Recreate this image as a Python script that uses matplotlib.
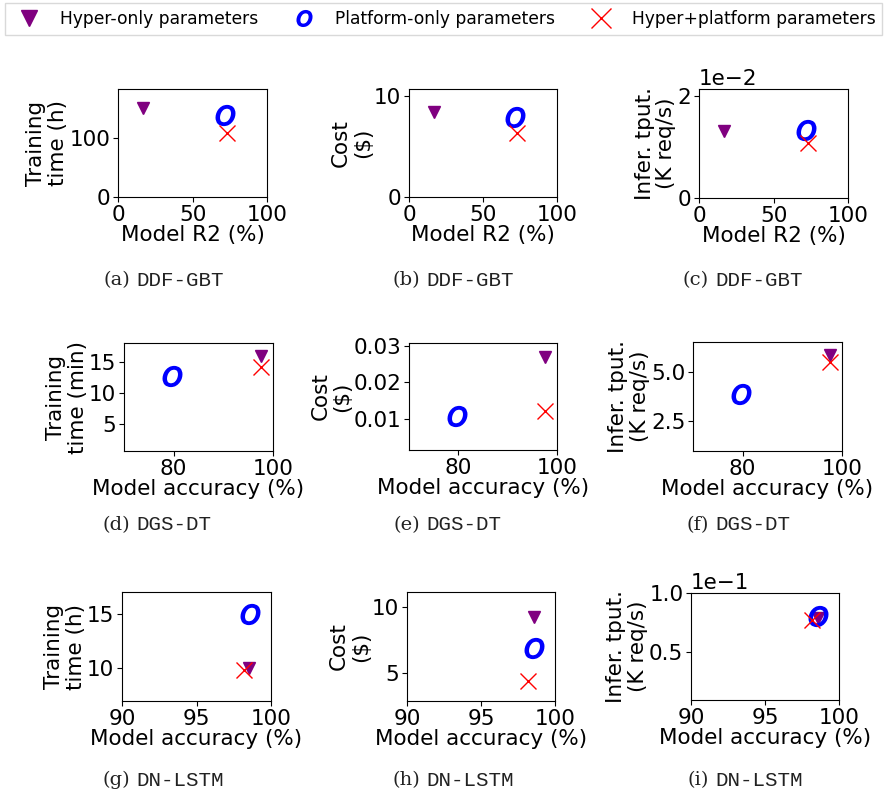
import matplotlib
matplotlib.use("Agg")
import matplotlib.pyplot as plt
from matplotlib.lines import Line2D

# ---------------- data ----------------
configs = ["Hyper-only parameters", "Platform-only parameters", "Hyper+platform parameters"]

# DDF-GBT (x: model R2 %)
ddf_r2 = [17, 71.5, 73]
ddf_time_h = [150, 138, 108]
ddf_cost = [8.4, 7.9, 6.3]
ddf_tput = [0.0130, 0.0133, 0.0108]

# DGS-DT (x: model accuracy %)
dgs_acc = [97.6, 79.7, 97.6]
dgs_time_min = [16.0, 12.7, 14.2]
dgs_cost = [0.0269, 0.0109, 0.0123]
dgs_tput = [5.85, 3.9, 5.5]

# DN-LSTM (x: model accuracy %)
dn_acc = [98.55, 98.6, 98.2]
dn_time_h = [10.0, 15.0, 9.8]
dn_cost = [9.2, 6.9, 4.4]
dn_tput = [0.079, 0.0805, 0.077]

captions = ["(a)", "(b)", "(c)", "(d)", "(e)", "(f)", "(g)", "(h)", "(i)"]
names = ["DDF-GBT", "DDF-GBT", "DDF-GBT", "DGS-DT", "DGS-DT", "DGS-DT",
         "DN-LSTM", "DN-LSTM", "DN-LSTM"]

# ---------------- style ----------------
W, H = 884, 796
fig = plt.figure(figsize=(W / 100, H / 100), dpi=100)
plt.rcParams["font.family"] = ["DejaVu Sans"]
FS = 15.5

colors = ["#800080", "#0000ff", "#ff0000"]
markers = ["v", "$O$", "x"]
msizes = [8, 14, 12]
mews = [1, 1.3, 1]


def ax_at(x0, y0, x1, y1):
    return fig.add_axes([x0 / W, (H - y1) / H, (x1 - x0) / W, (y1 - y0) / H])


panels = [
    # (box, x data, y data, ylabel, xlabel, xlim, xticks, ylim, yticks, sci)
    ((118, 89, 267, 197), ddf_r2, ddf_time_h, "Training\ntime (h)", "Model R2 (%)",
     (0, 100), [0, 50, 100], (0, 182), [0, 100], False),
    ((409, 89, 557, 197), ddf_r2, ddf_cost, "Cost\n($)", "Model R2 (%)",
     (0, 100), [0, 50, 100], (0, 10.66), [0, 10], False),
    ((699, 89, 848, 198), ddf_r2, ddf_tput, "Infer. tput.\n(K req/s)", "Model R2 (%)",
     (0, 100), [0, 50, 100], (0, 0.0213), [0, 0.02], True),
    ((124, 343, 273, 451), dgs_acc, dgs_time_min, "Training\ntime (min)", "Model accuracy (%)",
     (70, 100), [80, 100], (0.75, 18), [5, 10, 15], False),
    ((409, 343, 557, 450), dgs_acc, dgs_cost, "Cost\n($)", "Model accuracy (%)",
     (70, 100), [80, 100], (0.0015, 0.0308), [0.01, 0.02, 0.03], False),
    ((693, 342, 842, 451), dgs_acc, dgs_tput, "Infer. tput.\n(K req/s)", "Model accuracy (%)",
     (70, 100), [80, 100], (1.0, 6.5), [2.5, 5.0], False),
    ((122, 592, 271, 701), dn_acc, dn_time_h, "Training\ntime (h)", "Model accuracy (%)",
     (90, 100), [90, 95, 100], (6.9, 17), [10, 15], False),
    ((407, 592, 555, 701), dn_acc, dn_cost, "Cost\n($)", "Model accuracy (%)",
     (90, 100), [90, 95, 100], (2.9, 11.1), [5, 10], False),
    ((691, 593, 839, 700), dn_acc, dn_tput, "Infer. tput.\n(K req/s)", "Model accuracy (%)",
     (90, 100), [90, 95, 100], (0.01, 0.1), [0.05, 0.1], True),
]

for (box, xs, ys, ylab, xlab, xlim, xt, ylim, yt, sci) in panels:
    ax = ax_at(*box)
    for i in range(3):
        ax.plot([xs[i]], [ys[i]], linestyle="none", marker=markers[i],
                markersize=msizes[i], color=colors[i], markeredgecolor=colors[i],
                markeredgewidth=mews[i], zorder=3 + i)
    ax.set_xlim(*xlim)
    ax.set_ylim(*ylim)
    ax.set_xticks(xt)
    ax.set_yticks(yt)
    ax.tick_params(labelsize=FS, pad=2)
    ax.set_xlabel(xlab, fontsize=FS, labelpad=0)
    ax.set_ylabel(ylab, fontsize=FS, labelpad=1, linespacing=1.1)
    if sci:
        ax.ticklabel_format(axis="y", style="sci", scilimits=(0, 0))
        ax.yaxis.get_offset_text().set_fontsize(FS)

# captions
gap_x = [133, 423, 712]
cap_y = [280, 525, 780]
for k in range(9):
    r, c = divmod(k, 3)
    fx = gap_x[c] / W
    fy = (H - cap_y[r]) / H
    fig.text(fx - 3 / W, fy, captions[k], ha="right", va="center",
             fontsize=14, family="DejaVu Serif", color="#222222")
    fig.text(fx + 3 / W, fy, names[k], ha="left", va="center",
             fontsize=15, family="Liberation Mono", color="#222222")

# legend
handles = [Line2D([], [], linestyle="none", marker=markers[i], color=colors[i],
                  markeredgecolor=colors[i], markersize=[11, 11, 14][i],
                  markeredgewidth=mews[i]) for i in range(3)]
fig.legend(handles, configs, loc="upper left", bbox_to_anchor=(5 / W, 1 - 3 / H),
           ncol=3, fontsize=12.3, frameon=True, fancybox=False,
           borderaxespad=0, edgecolor="#d0d0d0", columnspacing=1.7)

fig.savefig("out.png", dpi=100)
